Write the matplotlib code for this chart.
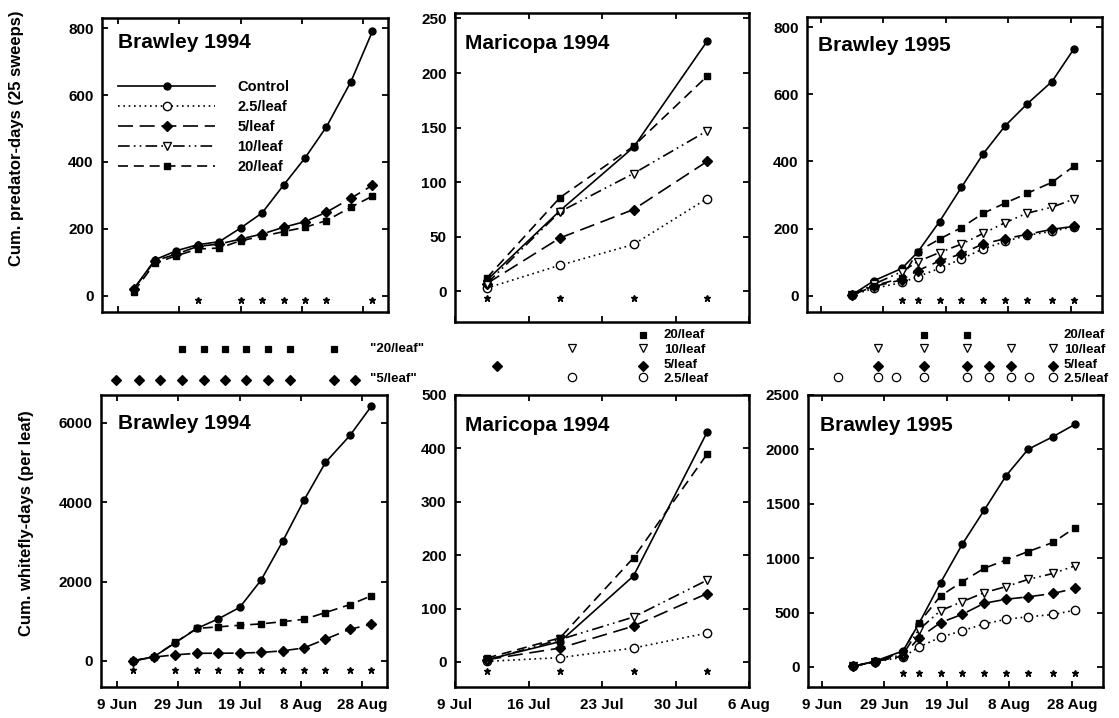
import matplotlib
matplotlib.use('Agg')
import matplotlib.pyplot as plt
from matplotlib.lines import Line2D

plt.rcParams['font.family'] = ['Liberation Sans', 'DejaVu Sans']

W, H = 1119, 718

# sampling dates: days after 9 Jun (Brawley) or 9 Jul (Maricopa)
b94_days = [5, 12, 19, 26, 33, 40, 47, 54, 61, 68, 76, 83]
mar_days = [3, 10, 17, 24]
b95_days = [10, 17, 26, 31, 38, 45, 52, 59, 66, 74, 81]

# cumulative predator-days (25 sweeps)
b94_pred_control = [20, 108, 135, 153, 162, 203, 248, 331, 412, 505, 640, 790]
b94_pred_5 = [20, 105, 125, 148, 155, 170, 185, 205, 222, 250, 292, 330]
b94_pred_20 = [12, 98, 120, 140, 143, 165, 178, 192, 205, 225, 265, 298]

mar_pred_control = [10, 74, 132, 229]
mar_pred_2_5 = [3, 24, 43, 85]
mar_pred_5 = [7, 49, 75, 119]
mar_pred_10 = [7, 73, 108, 147]
mar_pred_20 = [12, 86, 133, 197]

b95_pred_control = [3, 45, 82, 130, 221, 323, 423, 506, 571, 638, 735]
b95_pred_2_5 = [3, 22, 40, 57, 82, 110, 140, 162, 180, 192, 206]
b95_pred_5 = [3, 28, 48, 75, 104, 125, 155, 170, 183, 198, 207]
b95_pred_10 = [3, 35, 72, 102, 129, 154, 186, 218, 246, 264, 288]
b95_pred_20 = [3, 30, 53, 132, 169, 203, 246, 276, 305, 338, 386]

# cumulative whitefly-days (per leaf)
b94_wf_control = [0, 110, 460, 820, 1060, 1350, 2040, 3010, 4050, 5000, 5680, 6420]
b94_wf_5 = [0, 100, 155, 195, 195, 200, 215, 255, 330, 550, 800, 925]
b94_wf_20 = [0, 110, 470, 820, 860, 900, 935, 990, 1050, 1220, 1420, 1640]

mar_wf_control = [4, 38, 161, 430]
mar_wf_2_5 = [1, 8, 26, 54]
mar_wf_5 = [4, 26, 67, 128]
mar_wf_10 = [3, 42, 84, 153]
mar_wf_20 = [7, 45, 195, 389]

b95_wf_control = [6, 52, 147, 393, 773, 1129, 1442, 1758, 2000, 2117, 2230]
b95_wf_2_5 = [5, 45, 90, 181, 273, 333, 395, 438, 460, 482, 521]
b95_wf_5 = [5, 48, 100, 264, 407, 484, 585, 622, 644, 675, 721]
b95_wf_10 = [5, 48, 115, 340, 517, 600, 683, 738, 804, 859, 929]
b95_wf_20 = [6, 46, 138, 401, 652, 784, 907, 983, 1060, 1144, 1279]

# dates marked with * (significant difference)
b94_pred_stars = [26, 40, 47, 54, 61, 68, 83]
b94_wf_stars = [5, 19, 26, 33, 40, 47, 54, 61, 68, 76, 83]
mar_stars = [3, 10, 17, 24]
b95_stars = [26, 31, 38, 45, 52, 59, 66, 74, 81]

# rows of significance symbols between the two rows of panels
b94_sig_20 = [20.9, 28.1, 34.9, 41.8, 48.9, 56.2, 70.5]
b94_sig_5 = [-0.8, 6.8, 13.6, 20.9, 28.1, 34.9, 41.8, 48.9, 56.2, 70.5, 77.3]
mar_sig_20 = [17.9]
mar_sig_10 = [11.1, 17.9]
mar_sig_5 = [4.0, 17.9]
mar_sig_2_5 = [11.1, 17.9]
b95_sig_20 = [32.7, 46.5]
b95_sig_10 = [18.0, 32.7, 46.5, 60.6, 74.0]
b95_sig_5 = [18.0, 32.7, 46.5, 53.5, 60.6, 74.0]
b95_sig_2_5 = [5.2, 18.0, 23.8, 32.7, 46.5, 53.5, 60.6, 66.3, 74.0]

brawley_ticks = [0, 20, 40, 60, 80]
brawley_labels = ['9 Jun', '29 Jun', '19 Jul', '8 Aug', '28 Aug']
mar_ticks = [0, 7, 14, 21, 28]
mar_labels = ['9 Jul', '16 Jul', '23 Jul', '30 Jul', '6 Aug']

LW = 1.2
styles = {
    'Control': dict(ls='-', marker='o', mfc='black', ms=5),
    '2.5/leaf': dict(ls=(0, (1, 2.2)), marker='o', mfc='white', ms=6),
    '5/leaf': dict(ls=(0, (9, 4)), marker='D', mfc='black', ms=4.8),
    '10/leaf': dict(ls=(0, (7, 2.5, 1, 2.5, 1, 2.5)), marker='v', mfc='white', ms=6),
    '20/leaf': dict(ls=(0, (6, 3.5)), marker='s', mfc='black', ms=5),
}


def px_box(l, t, r, b):
    return [l / W, 1 - b / H, (r - l) / W, (b - t) / H]


def draw_panel(ax, days, series, stars, star_frac, title, title_xy,
               xlim, ylim, yticks, xticks, xlabels, show_xlabels):
    for name, vals in series:
        st = styles[name]
        ax.plot(days, vals, color='black', lw=LW, ls=st['ls'], marker=st['marker'],
                mfc=st['mfc'], mec='black', mew=1.0, ms=st['ms'], zorder=3)
    ax.plot(stars, [star_frac] * len(stars), ls='none', marker='*', ms=4.5,
            color='black', transform=ax.get_xaxis_transform(), clip_on=False)
    ax.text(title_xy[0], title_xy[1], title, transform=ax.transAxes,
            fontsize=15, fontweight='bold', ha='left', va='center')
    ax.set_xlim(xlim)
    ax.set_ylim(ylim)
    ax.set_yticks(yticks)
    ax.set_xticks(xticks)
    if show_xlabels:
        ax.set_xticklabels(xlabels)
    else:
        ax.set_xticklabels([])
    ax.tick_params(direction='in', top=True, right=True, length=4.5, width=1.3,
                   labelsize=11, pad=6)
    ax.tick_params(axis='x', pad=8)
    for lbl in ax.get_xticklabels() + ax.get_yticklabels():
        lbl.set_fontweight('bold')
    for sp in ax.spines.values():
        sp.set_linewidth(1.8)


def draw_sig(ax, rows, labels, label_x, marker_rows, label_rows, xlim):
    for (name, xs), y in zip(rows, marker_rows):
        st = styles[name]
        ax.plot(xs, [y] * len(xs), ls='none', marker=st['marker'], mfc=st['mfc'],
                mec='black', mew=0.9, ms=st['ms'], color='black', clip_on=False)
    for txt, y in zip(labels, label_rows):
        ax.text(label_x, y, txt, fontsize=9.5, fontweight='bold', ha='left', va='center',
                clip_on=False)
    ax.set_xlim(xlim)
    ax.set_ylim(392, 325)
    ax.axis('off')


fig = plt.figure(figsize=(W / 100, H / 100), dpi=100)

b94_xlim = (-5.3, 88.1)
mar_xlim = (0, 28)
b95_xlim = (-4.4, 90)

ax1 = fig.add_axes(px_box(102, 18, 388, 312))
draw_panel(ax1, b94_days,
           [('Control', b94_pred_control), ('5/leaf', b94_pred_5), ('20/leaf', b94_pred_20)],
           b94_pred_stars, 0.041, 'Brawley 1994', (0.056, 0.918),
           b94_xlim, (-48, 830), [0, 200, 400, 600, 800], brawley_ticks, brawley_labels, False)

ax2 = fig.add_axes(px_box(455, 13, 749, 322))
draw_panel(ax2, mar_days,
           [('Control', mar_pred_control), ('2.5/leaf', mar_pred_2_5), ('5/leaf', mar_pred_5),
            ('10/leaf', mar_pred_10), ('20/leaf', mar_pred_20)],
           mar_stars, 0.078, 'Maricopa 1994', (0.034, 0.9),
           mar_xlim, (-28, 255), [0, 50, 100, 150, 200, 250], mar_ticks, mar_labels, False)

ax3 = fig.add_axes(px_box(807, 17, 1102, 312))
draw_panel(ax3, b95_days,
           [('Control', b95_pred_control), ('2.5/leaf', b95_pred_2_5), ('5/leaf', b95_pred_5),
            ('10/leaf', b95_pred_10), ('20/leaf', b95_pred_20)],
           b95_stars, 0.041, 'Brawley 1995', (0.037, 0.905),
           b95_xlim, (-48, 830), [0, 200, 400, 600, 800], brawley_ticks, brawley_labels, False)

ax4 = fig.add_axes(px_box(101, 395, 387, 687))
draw_panel(ax4, b94_days,
           [('Control', b94_wf_control), ('5/leaf', b94_wf_5), ('20/leaf', b94_wf_20)],
           b94_wf_stars, 0.058, 'Brawley 1994', (0.059, 0.904),
           b94_xlim, (-655, 6700), [0, 2000, 4000, 6000], brawley_ticks, brawley_labels, True)

ax5 = fig.add_axes(px_box(455, 395, 749, 687))
draw_panel(ax5, mar_days,
           [('Control', mar_wf_control), ('2.5/leaf', mar_wf_2_5), ('5/leaf', mar_wf_5),
            ('10/leaf', mar_wf_10), ('20/leaf', mar_wf_20)],
           mar_stars, 0.055, 'Maricopa 1994', (0.034, 0.897),
           mar_xlim, (-47, 500), [0, 100, 200, 300, 400, 500], mar_ticks, mar_labels, True)

ax6 = fig.add_axes(px_box(808, 395, 1103, 687))
draw_panel(ax6, b95_days,
           [('Control', b95_wf_control), ('2.5/leaf', b95_wf_2_5), ('5/leaf', b95_wf_5),
            ('10/leaf', b95_wf_10), ('20/leaf', b95_wf_20)],
           b95_stars, 0.048, 'Brawley 1995', (0.041, 0.897),
           b95_xlim, (-185, 2500), [0, 500, 1000, 1500, 2000, 2500], brawley_ticks, brawley_labels, True)

# legend (top-left panel)
handles = []
for name in ['Control', '2.5/leaf', '5/leaf', '10/leaf', '20/leaf']:
    st = styles[name]
    handles.append(Line2D([0], [0], color='black', lw=LW, ls=st['ls'], marker=st['marker'],
                          mfc=st['mfc'], mec='black', mew=1.0, ms=st['ms'], label=name))
leg = ax1.legend(handles=handles, loc='upper left', bbox_to_anchor=(0.056, 0.79),
                 frameon=False, fontsize=10.5, handlelength=6.65, handletextpad=1.55,
                 labelspacing=0.42, borderpad=0, borderaxespad=0, numpoints=1)
for t in leg.get_texts():
    t.set_fontweight('bold')

# significance rows
s1 = fig.add_axes(px_box(102, 325, 388, 392))
draw_sig(s1, [('20/leaf', b94_sig_20), ('5/leaf', b94_sig_5)],
         ['"20/leaf"', '"5/leaf"'], 82.3, [349, 380], [349, 379], b94_xlim)

s2 = fig.add_axes(px_box(455, 325, 749, 392))
draw_sig(s2, [('20/leaf', mar_sig_20), ('10/leaf', mar_sig_10), ('5/leaf', mar_sig_5),
              ('2.5/leaf', mar_sig_2_5)],
         ['20/leaf', '10/leaf', '5/leaf', '2.5/leaf'], 19.9,
         [335, 348, 366, 377], [335, 350, 365, 379], mar_xlim)

s3 = fig.add_axes(px_box(808, 325, 1103, 392))
draw_sig(s3, [('20/leaf', b95_sig_20), ('10/leaf', b95_sig_10), ('5/leaf', b95_sig_5),
              ('2.5/leaf', b95_sig_2_5)],
         ['20/leaf', '10/leaf', '5/leaf', '2.5/leaf'], 77.5,
         [335, 348, 366, 377], [335, 350, 365, 379], b95_xlim)

# y-axis titles
fig.text(17 / W, 1 - 138 / H, 'Cum. predator-days (25 sweeps)', rotation=90,
         ha='center', va='center', fontsize=12, fontweight='bold')
fig.text(27 / W, 1 - 523 / H, 'Cum. whitefly-days (per leaf)', rotation=90,
         ha='center', va='center', fontsize=12, fontweight='bold')

fig.savefig('out.png', dpi=100)
